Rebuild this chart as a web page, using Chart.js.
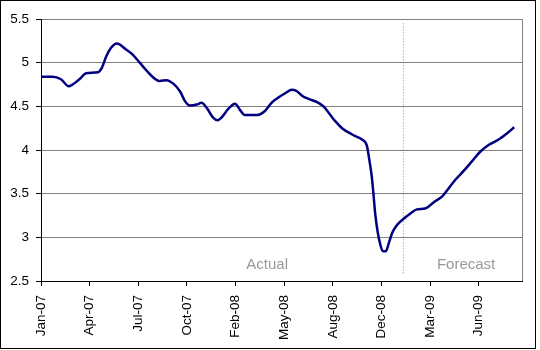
<!DOCTYPE html>
<html>
<head>
<meta charset="utf-8">
<script src="https://cdn.jsdelivr.net/npm/chart.js@4.4.1/dist/chart.umd.min.js"></script>
<style>
  body { margin: 0; background: #fff; }
  canvas { display: block; }
</style>
</head>
<body>
<canvas id="rateChart" width="540" height="350"></canvas>
<script>
// x axis is in days from 1 Jan 2007, a label every 100 days
const tickLabels = ['Jan-07', 'Apr-07', 'Jul-07', 'Oct-07', 'Feb-08', 'May-08', 'Aug-08', 'Dec-08', 'Mar-09', 'Jun-09'];

const days = [0, 24, 41, 57, 65, 79, 93, 117, 125, 134, 144, 156, 175, 189, 203, 217, 231, 244, 258, 272,
  286, 296, 306, 320, 330, 341, 354, 363, 371, 385, 399, 409, 419, 444, 461, 474, 488, 502, 516, 524,
  540, 553, 567, 581, 595, 605, 619, 639, 650, 660, 670, 675, 680, 684, 687, 692, 698, 703, 709, 715,
  722, 732, 745, 759, 773, 790, 807, 825, 838, 852, 869, 886, 903, 921, 941, 958, 973];

const values = [4.84, 4.84, 4.81, 4.73, 4.75, 4.81, 4.88, 4.89, 4.94, 5.07, 5.17, 5.22, 5.15, 5.09, 5.00, 4.91, 4.83, 4.79, 4.80, 4.76,
  4.67, 4.56, 4.51, 4.52, 4.54, 4.48, 4.37, 4.34, 4.37, 4.47, 4.53, 4.46, 4.40, 4.40, 4.45, 4.54, 4.60, 4.65, 4.69, 4.68,
  4.61, 4.58, 4.55, 4.50, 4.40, 4.33, 4.25, 4.18, 4.15, 4.12, 4.05, 3.89, 3.70, 3.47, 3.28, 3.07, 2.91, 2.84, 2.84, 2.93,
  3.05, 3.14, 3.21, 3.27, 3.32, 3.33, 3.40, 3.47, 3.56, 3.66, 3.76, 3.87, 3.98, 4.06, 4.12, 4.19, 4.26];

const forecastStart = 745;
const notes = ['Actual', 'Forecast'];
const noteDays = [465, 874];

const fontFamily = '"Liberation Sans", Arial, sans-serif';

const framePlugin = {
  id: 'frame',
  beforeDatasetsDraw(chart) {
    const { ctx, chartArea: a } = chart;
    ctx.save();
    ctx.strokeStyle = '#808080';
    ctx.lineWidth = 1;
    ctx.beginPath();
    ctx.moveTo(Math.round(a.right) + 0.5, a.top);
    ctx.lineTo(Math.round(a.right) + 0.5, a.bottom);
    ctx.stroke();
    // Actual / Forecast captions
    ctx.fillStyle = '#999999';
    ctx.font = '15px ' + fontFamily;
    ctx.textAlign = 'center';
    ctx.textBaseline = 'middle';
    const xs = chart.scales.x, ys = chart.scales.y;
    notes.forEach((t, i) => ctx.fillText(t, xs.getPixelForValue(noteDays[i]), ys.getPixelForValue(2.68)));
    ctx.restore();
  },
  afterDraw(chart) {
    const ctx = chart.ctx;
    ctx.save();
    ctx.strokeStyle = '#000';
    ctx.lineWidth = 1;
    ctx.strokeRect(0.5, 0.5, 535, 348);
    ctx.restore();
  }
};

new Chart(document.getElementById('rateChart').getContext('2d'), {
  type: 'line',
  data: {
    datasets: [{
      data: days.map((d, i) => ({ x: d, y: values[i] })),
      borderColor: '#000080',
      borderWidth: 2.5,
      pointRadius: 0,
      cubicInterpolationMode: 'monotone',
      fill: false
    }, {
      data: [{ x: forecastStart, y: 5.45 }, { x: forecastStart, y: 2.57 }],
      borderColor: '#888888',
      borderWidth: 1,
      borderDash: [1, 2],
      pointRadius: 0
    }]
  },
  options: {
    responsive: false,
    animation: false,
    layout: { padding: { top: 19, right: 18, left: 0, bottom: 0 } },
    plugins: { legend: { display: false }, tooltip: { enabled: false } },
    scales: {
      x: {
        type: 'linear',
        min: 0,
        max: 989,
        afterFit: s => { s.height = 69; },
        border: { color: '#000', width: 1 },
        grid: { drawOnChartArea: false, drawTicks: true, tickLength: 5, tickColor: '#000' },
        ticks: {
          stepSize: 100,
          includeBounds: false,
          autoSkip: false,
          minRotation: 90,
          maxRotation: 90,
          padding: 9,
          color: '#000',
          font: { family: fontFamily, size: 13.5 },
          callback: v => tickLabels[Math.round(v / 100)] || ''
        }
      },
      y: {
        min: 2.5,
        max: 5.5,
        afterFit: s => { s.width = 41; },
        border: { color: '#000', width: 1 },
        grid: { color: '#808080', tickColor: '#000', tickLength: 5 },
        ticks: {
          stepSize: 0.5,
          padding: 7,
          color: '#000',
          font: { family: fontFamily, size: 13.5 },
          callback: v => String(Math.round(v * 10) / 10)
        }
      }
    }
  },
  plugins: [framePlugin]
});
</script>
</body>
</html>
